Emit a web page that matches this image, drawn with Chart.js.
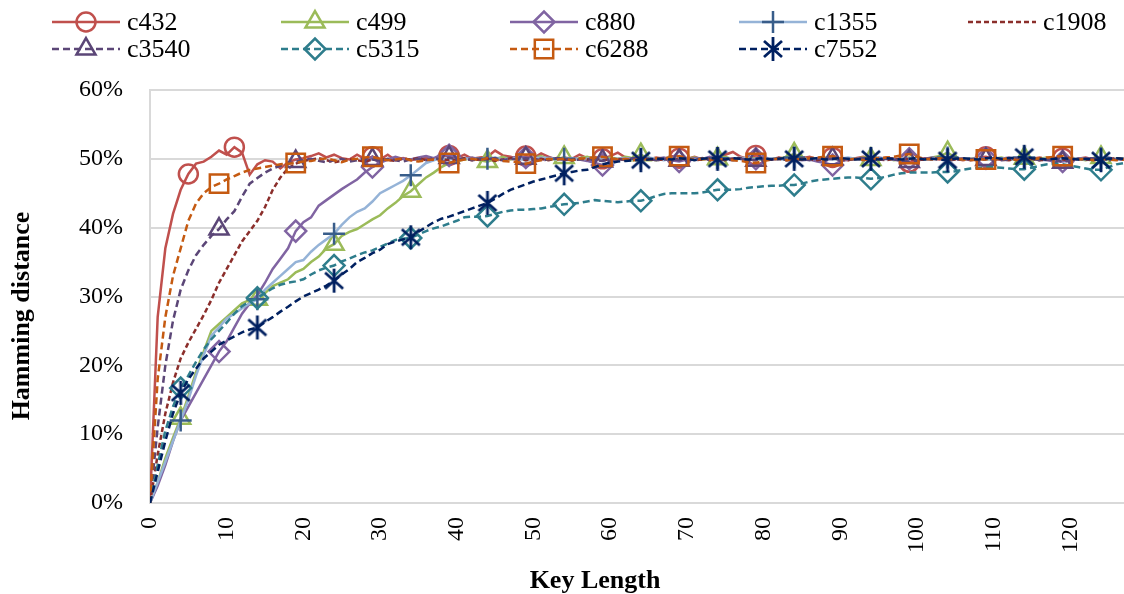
<!DOCTYPE html>
<html>
<head>
<meta charset="utf-8">
<script src="https://cdn.jsdelivr.net/npm/chart.js@4.4.1/dist/chart.umd.min.js"></script>
<style>
  html, body { margin: 0; padding: 0; background: #fff; }
  #wrap { width: 1124px; height: 594px; position: relative; }
</style>
</head>
<body>
<div id="wrap"><canvas id="hd_chart"></canvas></div>
<script>
// key length (x) and hamming distance in % per circuit
const keyLengths = Array.from({ length: 128 }, (_, i) => i);

const c432 = [
  0, 27, 37, 42, 45.5, 47.8, 49.3, 49.6, 50.3, 51.2,
  50.6, 51.7, 50.9, 47.7, 49.2, 49.8, 49.6, 48.6, 49.5, 49.9,
  50.1, 50.4, 50.8, 50.2, 50.6, 50.1, 49.9, 50.6, 50.0, 50.3,
  49.9, 50.6, 49.8, 50.1, 49.8, 50.0, 50.2, 49.9, 50.3, 50.5,
  50.1, 50.6, 50.0, 50.2, 50.3, 51.2, 50.5, 50.3, 50.0, 50.4,
  50.1, 50.8, 50.3, 49.8, 50.2, 50.0, 50.6, 50.1, 50.3, 50.0,
  50.4, 50.9, 50.2, 50.0, 50.3, 49.9, 50.2, 50.0, 50.4, 50.1,
  50.0, 50.3, 49.9, 50.2, 50.0, 50.6, 51.0, 50.3, 50.0, 50.5,
  50.1, 49.9, 50.2, 50.0, 49.8, 50.1, 50.3, 49.9, 50.0, 50.2,
  50.0, 49.8, 50.1, 50.3, 50.0, 49.9, 50.2, 50.0, 49.8, 49.5,
  49.9, 50.1, 50.0, 49.9, 50.2, 50.0, 49.8, 50.0, 50.2, 50.3,
  50.0, 49.9, 50.1, 50.0, 49.8, 50.0, 50.2, 49.9, 50.0, 50.1,
  49.9, 50.0, 50.2, 49.9, 50.0, 50.1, 49.9, 50.0
];
const c499 = [
  0, 3, 6.5, 9.5, 12.3, 15.5, 19, 22, 25, 26,
  27, 28, 29, 29.5, 29.6, 30.5, 31.5, 32, 32.5, 33.5,
  34, 35, 35.8, 37, 37.6, 38.8, 39.4, 39.8, 40.5, 41.2,
  41.8, 42.8, 43.6, 44.6, 45.3, 46.3, 47.3, 48, 48.8, 49.4,
  49.7, 49.9, 50.1, 49.8, 49.6, 50.0, 50.3, 49.9, 50.2, 49.8,
  50.1, 50.4, 49.9, 50.0, 50.2, 49.8, 50.1, 50.3, 50.0, 49.9,
  50.2, 50.0, 50.3, 50.1, 50.6, 50.0, 49.8, 50.1, 50.2, 49.9,
  50.0, 50.2, 49.9, 50.1, 50.0, 50.3, 49.9, 50.0, 50.2, 50.0,
  49.8, 50.1, 50.0, 50.3, 50.7, 50.1, 49.9, 50.0, 50.2, 50.0,
  49.9, 50.1, 50.0, 50.2, 49.9, 50.0, 50.1, 49.8, 50.0, 50.2,
  50.0, 49.9, 50.2, 50.4, 50.9, 50.2, 49.9, 50.0, 50.1, 49.9,
  50.0, 50.2, 49.9, 50.0, 50.1, 49.8, 50.0, 50.2, 50.0, 49.9,
  50.1, 50.0, 49.8, 50.0, 50.2, 49.9, 50.0, 50.1
];
const c880 = [
  0, 2.5, 5.5, 9, 12, 14, 16, 18, 20, 22,
  23.5, 25.5, 27.5, 29, 30.2, 32, 34, 35.5, 37, 39.5,
  40.8, 41.5, 43.2, 44, 44.8, 45.6, 46.3, 47, 48, 48.8,
  49.4, 49.9, 50.3, 50.0, 49.9, 50.2, 50.4, 50.1, 50.6, 50.5,
  50.3, 50.0, 50.2, 49.9, 50.1, 50.0, 49.8, 50.1, 50.3, 50.2,
  50.0, 49.9, 50.2, 50.0, 49.8, 50.1, 49.9, 49.7, 49.4, 49.1,
  49.6, 49.9, 50.1, 50.0, 50.2, 49.9, 50.0, 50.2, 49.8, 49.6,
  49.9, 50.1, 50.0, 50.3, 50.0, 49.9, 50.1, 50.0, 49.8, 50.0,
  50.2, 50.0, 49.9, 50.1, 50.0, 49.8, 49.9, 49.6, 49.4, 49.1,
  49.6, 49.9, 50.1, 50.0, 49.9, 50.2, 50.0, 49.9, 50.1, 50.0,
  49.8, 50.0, 50.2, 50.0, 49.9, 50.1, 50.0, 49.8, 50.0, 50.1,
  49.9, 50.0, 50.2, 49.9, 50.0, 50.1, 49.9, 49.8, 49.6, 49.6,
  49.8, 50.0, 50.1, 49.9, 50.0, 50.2, 49.9, 50.0
];
const c1355 = [
  0, 3, 6, 9, 12, 15, 18.5, 21.5, 24.3, 25.5,
  26.8, 27.5, 28.3, 29, 29.6, 31, 32, 33, 34, 35,
  35.3, 36.5, 37.5, 38.3, 39.1, 40.4, 41.5, 42.3, 42.8, 43.8,
  45, 45.6, 46.2, 46.8, 47.6, 48.5, 49.4, 49.8, 50.1, 49.9,
  50.0, 50.1, 49.9, 50.0, 50.0, 50.2, 49.9, 50.1, 50.0, 49.8,
  50.0, 50.2, 50.1, 49.9, 50.0, 50.1, 49.9, 50.0, 50.2, 50.0,
  49.9, 50.0, 50.1, 49.9, 50.0, 50.2, 50.0, 49.8, 50.0, 50.1,
  50.0, 49.9, 50.1, 50.0, 50.1, 49.9, 50.0, 50.2, 50.0, 49.9,
  50.0, 50.1, 49.9, 50.0, 50.2, 50.0, 49.9, 50.1, 50.0, 49.9,
  50.0, 50.2, 50.0, 49.8, 50.0, 50.1, 50.0, 49.9, 50.1, 50.0,
  50.0, 49.9, 50.1, 50.0, 50.2, 50.0, 49.9, 50.0, 50.1, 49.9,
  50.0, 50.1, 49.9, 50.0, 50.2, 50.0, 49.9, 50.1, 50.0, 49.9,
  50.0, 50.1, 49.9, 50.0, 50.1, 50.0, 49.9, 50.0
];
const c1908 = [
  0, 7, 13, 17.5, 21, 23.3, 25.3, 27.3, 29.5, 32,
  34, 36, 38, 39.5, 41, 43, 45.5, 47.3, 48.6, 49.3,
  49.7, 49.9, 50.1, 49.8, 49.5, 49.7, 50.0, 49.8, 49.6, 49.9,
  50.0, 49.8, 49.7, 50.0, 49.9, 50.1, 49.8, 49.9, 50.0, 49.8,
  49.9, 50.1, 49.8, 49.9, 50.0, 49.7, 49.9, 50.1, 50.0, 49.8,
  49.9, 50.0, 49.8, 50.1, 49.9, 49.8, 50.0, 49.9, 50.1, 49.8,
  49.9, 50.0, 49.8, 49.9, 50.1, 50.0, 49.8, 49.9, 50.0, 49.9,
  50.1, 49.8, 49.9, 50.0, 49.9, 49.8, 50.0, 50.1, 49.9, 49.8,
  50.0, 49.9, 50.1, 49.8, 49.9, 50.0, 49.9, 49.8, 50.0, 50.1,
  49.9, 49.8, 50.0, 49.9, 50.1, 49.9, 49.8, 50.0, 49.9, 50.0,
  49.8, 49.9, 50.1, 50.0, 49.8, 49.9, 50.0, 49.9, 49.8, 50.0,
  50.1, 49.9, 49.8, 50.0, 49.9, 50.0, 49.8, 49.9, 50.1, 49.9,
  49.8, 50.0, 49.9, 49.8, 50.0, 49.9, 50.1, 49.9
];
const c3540 = [
  0, 11, 20, 26.5, 31, 33.8, 36, 37.5, 38.8, 39.8,
  41.2, 42.4, 44.5, 46.4, 47.2, 48, 48.6, 49, 49.3, 49.6,
  49.8, 50.0, 49.7, 49.5, 49.8, 50.0, 49.6, 49.8, 50.1, 49.9,
  49.7, 50.0, 49.8, 49.6, 49.9, 50.0, 49.8, 50.1, 49.9, 50.2,
  49.9, 50.0, 49.8, 50.0, 49.9, 50.1, 49.8, 50.0, 49.9, 50.1,
  50.0, 49.8, 49.9, 50.1, 50.0, 49.8, 49.9, 50.0, 49.8, 49.7,
  49.9, 50.0, 49.8, 50.1, 49.9, 50.0, 49.8, 49.9, 50.0, 49.8,
  50.0, 49.9, 50.1, 49.8, 50.0, 49.9, 49.8, 50.0, 49.9, 49.8,
  50.0, 49.9, 50.1, 49.8, 49.9, 50.0, 49.8, 50.1, 49.9, 50.0,
  49.8, 50.0, 49.9, 50.1, 49.9, 49.8, 50.0, 49.9, 49.7, 49.6,
  49.8, 50.0, 49.9, 50.1, 49.9, 49.8, 50.0, 49.9, 50.1, 49.9,
  50.0, 49.8, 49.9, 50.1, 49.9, 50.0, 49.8, 49.9, 50.0, 49.5,
  49.8, 50.0, 49.9, 50.1, 49.9, 49.8, 50.0, 49.9
];
const c5315 = [
  0, 5.5, 10.5, 14, 16.7, 18.5, 20.5, 22.3, 23.8, 25,
  26.2, 27.5, 28.6, 29.3, 29.8, 30.5, 31.2, 31.7, 32, 32.2,
  32.5, 33.2, 33.8, 34.2, 34.5, 35.1, 35.5, 36, 36.4, 36.7,
  37.2, 37.7, 38.2, 38.4, 38.5, 39, 39.5, 39.9, 40.2, 40.6,
  41, 41.5, 41.6, 41.6, 41.7, 42, 42.3, 42.5, 42.6, 42.6,
  42.7, 42.8, 43, 43.2, 43.4, 43.5, 43.6, 43.8, 44, 43.9,
  43.8, 43.7, 43.8, 43.9, 43.9, 44.2, 44.6, 44.9, 45, 45,
  45, 45, 45.1, 45.3, 45.5, 45.5, 45.5, 45.6, 45.8, 45.9,
  46, 46.1, 46.1, 46.2, 46.2, 46.4, 46.7, 46.9, 47, 47.1,
  47.2, 47.3, 47.3, 47.2, 47.1, 47.2, 47.4, 47.7, 47.9, 48,
  48, 48, 48, 48.1, 48.1, 48.2, 48.4, 48.6, 48.7, 48.8,
  48.8, 48.7, 48.6, 48.5, 48.5, 48.7, 49, 49.2, 49.3, 49.2,
  49, 48.8, 48.6, 48.4, 48.4, 48.8, 49.2, 49.4
];
const c6288 = [
  0, 18, 27, 33, 37, 41, 43.5, 45, 45.9, 46.4,
  47, 47.5, 48, 48.4, 48.6, 48.8, 49, 49.2, 49.3, 49.4,
  49.6, 49.7, 49.9, 50.1, 49.8, 49.5, 49.9, 50.0, 50.2, 50.3,
  50.0, 49.8, 49.9, 50.1, 49.8, 49.6, 49.8, 49.9, 49.6, 49.4,
  49.7, 49.9, 50.0, 49.8, 50.1, 49.9, 49.7, 49.6, 49.5, 49.3,
  49.6, 49.8, 50.0, 49.9, 50.0, 49.8, 50.0, 50.1, 50.2, 50.3,
  50.1, 49.9, 50.0, 49.8, 50.0, 49.9, 50.1, 50.0, 50.2, 50.4,
  50.1, 49.9, 50.0, 49.8, 50.0, 49.9, 49.8, 49.7, 49.5, 49.4,
  49.7, 49.9, 50.0, 49.8, 50.0, 49.9, 50.1, 50.2, 50.3, 50.4,
  50.1, 49.9, 50.0, 49.8, 50.0, 50.1, 50.2, 50.3, 50.5, 50.7,
  50.3, 50.0, 49.9, 50.1, 49.9, 50.0, 49.9, 49.8, 49.9, 49.9,
  50.0, 49.9, 50.1, 49.8, 50.0, 49.9, 50.1, 50.2, 50.3, 50.4,
  50.1, 49.9, 50.0, 49.8, 50.0, 49.9, 49.8, 49.9
];
const c7552 = [
  0, 4.5, 9, 13, 16, 18, 19.5, 21, 22, 23,
  23.6, 24.2, 24.8, 25.2, 25.5, 26.3, 27, 27.8, 28.5, 29.3,
  30, 30.5, 31, 31.6, 32.3, 33.2, 34, 35, 35.6, 36.3,
  36.8, 37.6, 38, 38.3, 38.6, 39.4, 40.1, 40.8, 41.3, 41.6,
  42, 42.4, 42.8, 43.2, 43.6, 44.2, 44.9, 45.5, 45.9, 46.3,
  46.7, 47, 47.3, 47.6, 47.9, 48.1, 48.3, 48.4, 48.8, 49.2,
  49.4, 49.6, 49.7, 49.8, 49.8, 49.9, 50.0, 50.0, 49.9, 50.1,
  50.0, 49.8, 50.0, 50.1, 50.0, 49.9, 50.1, 50.0, 49.9, 50.0,
  50.1, 49.9, 50.0, 50.1, 50.0, 49.9, 50.0, 50.1, 49.9, 50.0,
  50.1, 50.0, 49.9, 50.0, 50.0, 49.9, 50.1, 50.0, 49.9, 50.0,
  50.1, 49.9, 50.0, 49.9, 49.8, 50.0, 50.1, 50.0, 49.9, 50.1,
  50.2, 50.0, 50.1, 50.2, 50.3, 50.1, 50.0, 49.9, 50.0, 50.1,
  50.0, 49.9, 50.0, 49.9, 49.8, 50.0, 50.1, 50.0
];

// key lengths where a marker is drawn
const marksC432 = [5, 11, 29, 39, 49, 59, 69, 79, 89, 99, 109, 119];
const marksFrom4 = [4, 14, 24, 34, 44, 54, 64, 74, 84, 94, 104, 114, 124];
const marksFrom9 = [9, 19, 29, 39, 49, 59, 69, 79, 89, 99, 109, 119];

const yTicks = [0, 10, 20, 30, 40, 50, 60];

// asterisk marker for c7552
const asterisk = document.createElement('canvas');
asterisk.width = 26;
asterisk.height = 26;
const actx = asterisk.getContext('2d');
actx.strokeStyle = '#002060';
actx.lineWidth = 2.8;
actx.beginPath();
actx.moveTo(13, 1); actx.lineTo(13, 25);
actx.moveTo(4, 5); actx.lineTo(22, 21);
actx.moveTo(22, 5); actx.lineTo(4, 21);
actx.stroke();

const series = [
  { name: 'c432', data: c432, color: '#C0504D', mark: '#C0504D', dash: [], style: 'circle', r: 9.5, marks: marksC432 },
  { name: 'c499', data: c499, color: '#9BBB59', mark: '#9BBB59', dash: [], style: 'triangle', r: 11, marks: marksFrom4 },
  { name: 'c880', data: c880, color: '#8064A2', mark: '#8064A2', dash: [], style: 'rectRot', r: 10.5, marks: marksFrom9 },
  { name: 'c1355', data: c1355, color: '#95B3D7', mark: '#385D8A', dash: [], style: 'cross', r: 11, marks: marksFrom4 },
  { name: 'c1908', data: c1908, color: '#8B2E2B', mark: '#8B2E2B', dash: [5, 3], style: false, r: 0, marks: [] },
  { name: 'c3540', data: c3540, color: '#5B4677', mark: '#5B4677', dash: [7, 4], style: 'triangle', r: 11, marks: marksFrom9 },
  { name: 'c5315', data: c5315, color: '#2E7D8C', mark: '#2E7D8C', dash: [7, 4], style: 'rectRot', r: 10.5, marks: marksFrom4 },
  { name: 'c6288', data: c6288, color: '#C55A11', mark: '#C55A11', dash: [7, 4], style: 'rect', r: 13, marks: marksFrom9 },
  { name: 'c7552', data: c7552, color: '#002060', mark: '#002060', dash: [7, 4], style: asterisk, r: 12, marks: marksFrom4 }
];

const FONT = '"Liberation Serif", "Times New Roman", serif';

const datasets = series.map((s, i) => ({
  label: s.name,
  data: s.data.map((v, k) => ({ x: keyLengths[k], y: v })),
  borderColor: s.color,
  borderWidth: 2.5,
  borderDash: s.dash,
  tension: 0,
  fill: false,
  order: series.length - i,
  pointStyle: s.style || 'circle',
  pointBorderColor: s.mark,
  pointBackgroundColor: 'rgba(0,0,0,0)',
  pointBorderWidth: 2.5,
  pointRadius: (ctx) => s.marks.includes(keyLengths[ctx.dataIndex]) ? s.r : 0,
  pointHoverRadius: 0,
  legendMark: s.style ? s.r : 0
}));

// excel-like legend grid and axis titles
const gridLegend = {
  id: 'gridLegend',
  afterDraw(chart) {
    const ctx = chart.ctx;
    chart.data.datasets.forEach((ds, i) => {
      const x0 = 52 + (i % 5) * 229;
      const y = 22 + Math.floor(i / 5) * 27;
      ctx.save();
      ctx.strokeStyle = ds.borderColor;
      ctx.lineWidth = ds.borderWidth;
      ctx.setLineDash(ds.borderDash);
      ctx.beginPath();
      ctx.moveTo(x0, y);
      ctx.lineTo(x0 + 68, y);
      ctx.stroke();
      ctx.setLineDash([]);
      if (ds.legendMark) {
        ctx.strokeStyle = ds.pointBorderColor;
        ctx.fillStyle = 'rgba(0,0,0,0)';
        ctx.lineWidth = ds.pointBorderWidth;
        Chart.helpers.drawPoint(ctx, {
          pointStyle: ds.pointStyle, radius: ds.legendMark, rotation: 0, borderWidth: ds.pointBorderWidth
        }, x0 + 34, y);
      }
      ctx.fillStyle = '#000';
      ctx.font = '26px ' + FONT;
      ctx.textBaseline = 'middle';
      ctx.textAlign = 'left';
      ctx.fillText(ds.label, x0 + 75, y + 1);
      ctx.restore();
    });

    ctx.save();
    ctx.fillStyle = '#000';
    ctx.font = 'bold 26px ' + FONT;
    ctx.textAlign = 'center';
    ctx.textBaseline = 'middle';
    ctx.fillText('Key Length', 595, 581);
    ctx.translate(22, 316);
    ctx.rotate(-Math.PI / 2);
    ctx.fillText('Hamming distance', 0, 0);
    ctx.restore();
  }
};

const config = {
  type: 'line',
  data: { datasets: datasets },
  options: {
    responsive: true,
    maintainAspectRatio: false,
    animation: false,
    events: [],
    layout: { padding: { top: 90, left: 0, right: 0, bottom: 0 } },
    plugins: {
      legend: { display: false },
      tooltip: { enabled: false }
    },
    scales: {
      x: {
        type: 'linear',
        min: 0,
        max: 127,
        afterFit: (scale) => { scale.height = 91; },
        grid: { color: 'rgba(0,0,0,0)', drawTicks: false },
        border: { display: true, color: '#D9D9D9', width: 2 },
        ticks: {
          stepSize: 10,
          includeBounds: false,
          autoSkip: false,
          minRotation: 90,
          maxRotation: 90,
          padding: 14,
          color: '#000',
          font: { family: FONT, size: 24 }
        }
      },
      y: {
        min: 0,
        max: 60,
        afterFit: (scale) => { scale.width = 150; },
        afterBuildTicks: (scale) => { scale.ticks = yTicks.map((v) => ({ value: v })); },
        grid: { color: '#D9D9D9', lineWidth: 2, drawTicks: false },
        border: { display: true, color: '#D9D9D9', width: 2 },
        ticks: {
          padding: 27,
          color: '#000',
          font: { family: FONT, size: 24 },
          callback: (v) => v + '%'
        }
      }
    }
  },
  plugins: [gridLegend]
};

var ctx_hd = document.getElementById('hd_chart');
var hd_chart = new Chart(ctx_hd, config);
</script>
</body>
</html>
